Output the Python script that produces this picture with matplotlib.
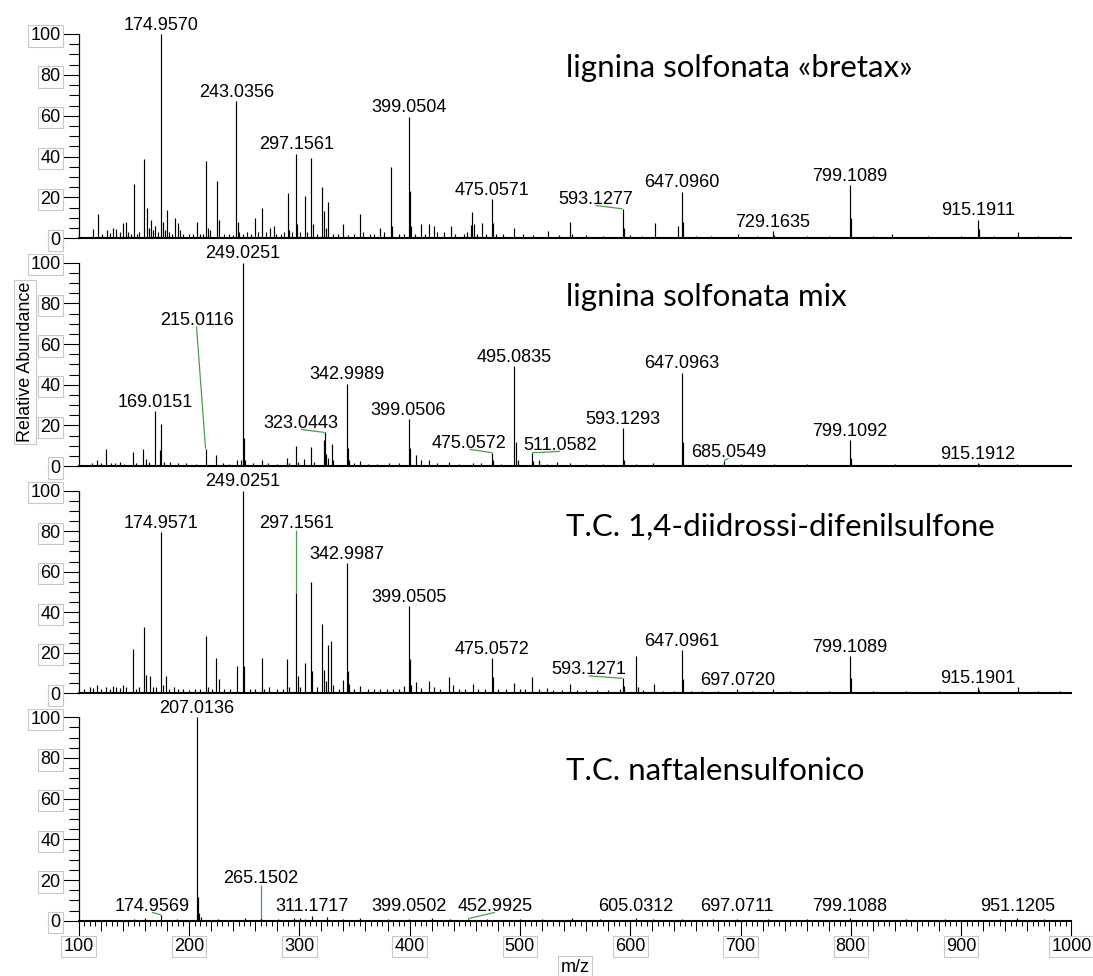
import matplotlib
matplotlib.use("Agg")
import matplotlib.pyplot as plt
from matplotlib.ticker import MultipleLocator

# ---------------------------------------------------------------- data
# lignina solfonata «bretax»
bretax_labeled_mz = [174.9570, 243.0356, 297.1561, 399.0504, 475.0571, 593.1277,
                     647.0960, 729.1635, 799.1089, 915.1911]
bretax_labeled_int = [100, 67, 41.5, 59.5, 19, 14.4, 22.7, 3.4, 26, 9]
bretax_mz = [113.3, 117.5, 121, 125.4, 128, 131.5, 134, 137, 140.5, 142.5, 145, 147.5,
             150.0, 153, 155, 159.3, 161.7, 163.5, 165.6, 167.5, 169.6, 172, 176.0, 178,
             180.1, 182, 185, 187.4, 189.8, 192, 195, 200, 204, 207.7, 210, 213, 215.5,
             217, 219, 225.5, 227.6, 232, 236, 240, 244.04, 245, 249, 253, 256, 260, 263,
             266.3, 270, 273.6, 277, 279, 283, 286, 289.6, 291, 293, 298.2, 301, 304.9,
             307, 310.6, 312.1, 316, 320.9, 322.7, 324, 326, 331, 335, 339.6, 344, 350,
             354.8, 358, 364, 368, 373.2, 377, 382.8, 384, 390, 395, 400.05, 401, 405,
             410.6, 414, 417.6, 422, 425, 431, 437.8, 441, 449, 452, 455.4, 456.8, 458.4,
             461, 465.6, 469, 476.06, 478, 485, 494.7, 503, 512, 525.2, 535, 545.4, 547,
             560, 575, 594.13, 600, 611, 622.1, 643.6, 648.1, 660, 673, 697.7, 715, 730.2,
             760, 780, 800.1, 820, 837.6, 870, 900, 916.2, 930, 951.4, 970, 990]
bretax_int = [4.4, 12, 2, 4, 2.5, 5, 4.5, 3, 7.5, 8, 3, 2,
              26.6, 2, 3, 39, 15, 5, 9, 4, 6, 3, 8, 4,
              14, 3, 2, 10, 7.5, 4, 2, 2, 2, 8, 2, 2, 38,
              5, 4, 28, 9, 2, 2, 1.5, 8, 3, 2, 3, 2, 10, 3,
              15, 3, 5, 6, 2, 2, 3, 22, 4, 3, 7, 3, 20.6,
              3, 39.5, 7, 2, 25, 13.4, 5, 18, 2, 2, 7, 1.5, 2,
              12, 3, 2, 2, 5, 3, 35, 6, 2, 2, 23, 6, 2,
              7, 2, 7, 6, 3, 3, 6, 2, 2, 3, 6.5, 13, 7,
              2, 7.5, 2, 7.5, 2, 2, 5, 2, 1.5, 3.5, 1.5, 8, 2,
              1.5, 1, 5, 1.5, 1, 7.5, 6, 8, 1, 1, 2, 1, 1.5,
              1, 1, 10, 1, 2, 1, 1, 4.5, 1, 3, 1, 1]

# lignina solfonata mix
mix_labeled_mz = [169.0151, 215.0116, 249.0251, 323.0443, 342.9989, 399.0506, 475.0572,
                  495.0835, 511.0582, 593.1293, 647.0963, 685.0549, 799.1092, 915.1912]
mix_labeled_int = [27, 8.5, 100, 16.5, 40.5, 23, 6.5, 49, 6.5, 18.7, 45.8, 2.5, 12.8, 1.5]
mix_mz = [112, 116.9, 120, 125.1, 129, 133, 137, 141, 149.2, 152, 158.6, 161, 164, 173.4,
          174.9, 177, 183, 190, 197, 206, 224.8, 231, 236, 243.5, 246.9, 250.03, 251, 258,
          265.9, 272, 280, 289.1, 291, 297, 299, 304, 310.6, 313, 322, 324.1, 326, 329.4,
          331, 344, 345.5, 350, 355, 362, 370, 381, 390, 400.05, 405.5, 410.4, 417.9, 425,
          435.7, 445, 457.2, 465, 476.06, 483, 496.08, 498, 512.06, 517.6, 525, 533.4, 545,
          560, 575, 594.13, 605, 621, 648.1, 669.3, 700, 730, 760, 800.1, 840, 880, 916.2,
          951]
mix_int = [1.5, 3, 1.5, 8.2, 1.5, 1.5, 2, 1, 7, 1.5, 8.2, 3.5, 2, 8,
           20.7, 2, 2, 1.5, 1.5, 1, 5.6, 1.5, 1, 3, 3, 14, 3, 1.5,
           3, 1.5, 1, 3.8, 1.5, 9.7, 2, 3.5, 9.5, 2, 12.6, 6, 4, 10.8,
           3, 9, 3, 1.5, 2.3, 1, 1, 1.5, 1.5, 9, 5.3, 2.8, 2.8, 1.5,
           2, 1, 1.7, 1.5, 3, 1, 11.8, 3, 2.5, 3, 1, 2, 1.5,
           1, 1, 3, 1, 1.5, 12, 1, 1, 1, 0.8, 4, 0.8, 0.8, 1,
           1]

# T.C. 1,4-diidrossi-difenilsulfone
difenil_labeled_mz = [174.9571, 249.0251, 297.1561, 342.9987, 399.0505, 475.0572,
                      593.1271, 647.0961, 697.0720, 799.1089, 915.1901]
difenil_labeled_int = [79.6, 100, 49.6, 64.3, 43, 17.4, 7.4, 21.3, 2, 18.2, 3]
difenil_mz = [105, 110, 113, 117, 120, 125, 128, 131, 134, 137, 140, 143, 149, 152, 155,
              158.9, 161, 164.9, 167, 170, 176, 179.4, 182, 186.4, 190, 195, 200, 205, 210,
              215.1, 217, 221, 224.8, 226.9, 232, 237, 243.2, 250.03, 255, 260, 265.9, 268,
              272.8, 280, 285, 288.9, 291, 298.8, 301, 305.1, 310.6, 311.8, 316, 320.9,
              322.1, 324, 326, 329, 331, 336, 339.6, 344, 345.4, 350, 355, 362, 368, 373,
              379.8, 385, 390, 394.9, 400.05, 401, 405.5, 410, 417.9, 422, 428, 435.4,
              439.6, 445, 450, 457.2, 462, 468, 476.06, 480, 487, 495, 500, 505, 511.3, 517,
              525, 530, 538, 545.1, 552, 560, 570, 580, 591, 594.13, 605.7, 607, 612, 621.6,
              630, 640, 648.1, 655, 665, 680, 710, 729.9, 745, 760, 780, 800.1, 820, 850,
              880, 916.2, 951.3, 970, 990]
difenil_int = [2, 3, 2.5, 4, 2, 3, 2, 3.5, 3, 2.5, 4, 3, 21.9, 2, 3,
               32.5, 9.2, 8.4, 3, 3, 4, 8.4, 2, 3, 2, 2, 1.5, 2, 2,
               28.3, 3, 2, 17.6, 7, 2, 2, 13.6, 13.4, 2, 2, 17.6, 2,
               3, 2, 2, 17, 3, 8.7, 3, 15.2, 54.8, 11, 3, 34.2,
               11.3, 6, 24, 25.8, 4, 2, 6.8, 11, 4.8, 2, 3.5, 2, 2, 2,
               2, 2, 2, 3.5, 16.8, 4, 5.5, 2.5, 6.2, 3, 2, 7.9,
               4, 2, 2, 4.6, 2, 2, 8, 2, 2, 5.2, 2, 2, 8.2, 2,
               2.8, 1.5, 1.5, 4.8, 1.5, 1.5, 1.5, 1.5, 2, 3.5, 18.2, 3, 1.5, 4.8,
               1, 1, 7, 1, 1, 1, 1, 2.3, 1, 1, 1, 7.4, 1, 1,
               1, 1.5, 3, 1, 1]

# T.C. naftalensulfonico
naftalen_labeled_mz = [174.9569, 207.0136, 265.1502, 311.1717, 399.0502, 452.9925,
                       605.0312, 697.0711, 799.1088, 951.1205]
naftalen_labeled_int = [2.8, 100, 1.5, 2.3, 1, 1, 1.5, 1, 1.5, 1.5]
naftalen_mz = [150, 160, 189, 208.02, 209, 210.5, 226, 251, 281, 295, 301, 305, 325, 340,
               355, 380, 420, 437, 470, 500, 520, 547, 573, 621, 647, 675, 725, 760, 850,
               885, 935, 975]
naftalen_int = [1, 1.2, 1, 11.5, 4, 2, 1, 1.5, 1, 1.5, 1.2, 1, 1.8, 1,
                1.5, 1, 1.2, 1, 1, 1, 1, 1.2, 1, 1, 1, 1, 1, 1, 1,
                1, 1, 1]

titles = ["lignina solfonata «bretax»", "lignina solfonata mix",
          "T.C. 1,4-diidrossi-difenilsulfone", "T.C. naftalensulfonico"]

x_range = (100, 1000)

# ---------------------------------------------------------------- layout
W, H, DPI = 1093, 976, 100
AX_LEFT, AX_RIGHT = 78.7, 1071.4
# (pixel row of 100 %, pixel row of 0 %) for each panel
PANEL_ROWS = [(34.0, 238.3), (262.7, 466.0), (490.7, 693.3), (717.3, 920.7)]
TITLE_POS = [(541.8, 79.0), (541.8, 78.8), (541.8, 77.6), (541.8, 69.2)]

# labels that are moved away from their peak: (label x, label baseline y)
label_pos = [
    {593.1277: (568.5, 16.8)},
    {215.0116: (206.8, 69.4), 323.0443: (301.4, 18.7), 475.0572: (454.3, 8.9),
     511.0582: (536.4, 7.9), 685.0549: (689.0, 4.5)},
    {297.1561: (297.1561, 81.4), 593.1271: (562.4, 9.3)},
    {174.9569: (166.5, 4.8), 265.1502: (265.1502, 18.4), 311.1717: (311.1717, 4.8),
     399.0502: (399.0502, 4.8), 452.9925: (477.4, 4.8), 605.0312: (605.0312, 4.8),
     697.0711: (697.0711, 4.8), 799.1088: (799.1088, 4.8), 951.1205: (951.1205, 4.8)},
]
leader_lines = [
    {593.1277},
    {215.0116, 323.0443, 475.0572, 511.0582, 685.0549},
    {297.1561, 593.1271},
    {174.9569, 265.1502, 452.9925},
]

LABEL_FONT = "Liberation Sans"
TITLE_FONT = "Lato"
FS = 13
BOX = dict(boxstyle="square,pad=0.12", fc="white", ec="#c8c8c8", lw=0.8)
LEADER = "#4a9e4a"

spectra = [
    (bretax_mz, bretax_int, bretax_labeled_mz, bretax_labeled_int),
    (mix_mz, mix_int, mix_labeled_mz, mix_labeled_int),
    (difenil_mz, difenil_int, difenil_labeled_mz, difenil_labeled_int),
    (naftalen_mz, naftalen_int, naftalen_labeled_mz, naftalen_labeled_int),
]

fig = plt.figure(figsize=(W / DPI, H / DPI), dpi=DPI)

axes = []
for i, (top, bot) in enumerate(PANEL_ROWS):
    ax = fig.add_axes([AX_LEFT / W, 1 - bot / H, (AX_RIGHT - AX_LEFT) / W, (bot - top) / H])
    axes.append(ax)
    mz, inten, lmz, lint = spectra[i]

    ax.vlines(mz, 0, inten, colors="black", lw=0.85)
    ax.vlines(lmz, 0, lint, colors="black", lw=0.85)

    ax.set_xlim(*x_range)
    ax.set_ylim(0, 100)
    for s in ("top", "right"):
        ax.spines[s].set_visible(False)
    ax.spines["left"].set_linewidth(0.9)
    ax.spines["bottom"].set_linewidth(1.5)

    ax.yaxis.set_major_locator(MultipleLocator(20))
    ax.yaxis.set_minor_locator(MultipleLocator(5))
    ax.tick_params(axis="y", which="major", length=12, width=0.8, pad=1,
                   labelsize=FS)
    ax.tick_params(axis="y", which="minor", length=7, width=0.8)
    for lbl in ax.get_yticklabels():
        lbl.set_fontfamily(LABEL_FONT)
        lbl.set_bbox(BOX)

    if i < 3:
        ax.tick_params(axis="x", which="both", bottom=False, labelbottom=False)
    else:
        ax.xaxis.set_major_locator(MultipleLocator(100))
        ax.xaxis.set_minor_locator(MultipleLocator(5))
        ax.tick_params(axis="x", which="major", length=11.5, width=0.8, pad=1,
                       labelsize=FS)
        ax.tick_params(axis="x", which="minor", length=3.5, width=0.7)
        for lbl in ax.get_xticklabels():
            lbl.set_fontfamily(LABEL_FONT)
            lbl.set_bbox(BOX)
        mid = ax.secondary_xaxis("bottom")
        mid.spines["bottom"].set_visible(False)
        mid.xaxis.set_major_locator(MultipleLocator(20))
        mid.tick_params(axis="x", length=7, width=0.7, labelbottom=False)

    # peak annotations
    for m, v in zip(lmz, lint):
        txt = f"{m:.4f}"
        if m in label_pos[i]:
            lx, ly = label_pos[i][m]
            ax.text(lx, ly, txt, ha="center", va="baseline", fontsize=FS,
                    family=LABEL_FONT, clip_on=False)
            if m in leader_lines[i]:
                ax.plot([lx, m], [ly - 0.7, v], color=LEADER, lw=0.9,
                        solid_capstyle="butt", clip_on=False)
        else:
            ax.annotate(txt, xy=(m, v), xytext=(0, 3.2), textcoords="offset points",
                        ha="center", va="baseline", fontsize=FS, family=LABEL_FONT,
                        annotation_clip=False)

    tx, ty = TITLE_POS[i]
    ax.text(tx, ty, titles[i], ha="left", va="baseline", fontsize=22.5,
            family=TITLE_FONT)

fig.text(25 / W, 1 - 362 / H, "Relative Abundance", rotation=90, ha="center",
         va="center", fontsize=FS, family=LABEL_FONT, bbox=BOX)
fig.text(575 / W, 1 - 967 / H, "m/z", ha="center", va="center", fontsize=FS,
         family=LABEL_FONT, bbox=BOX)

fig.savefig("out.png", dpi=DPI)
